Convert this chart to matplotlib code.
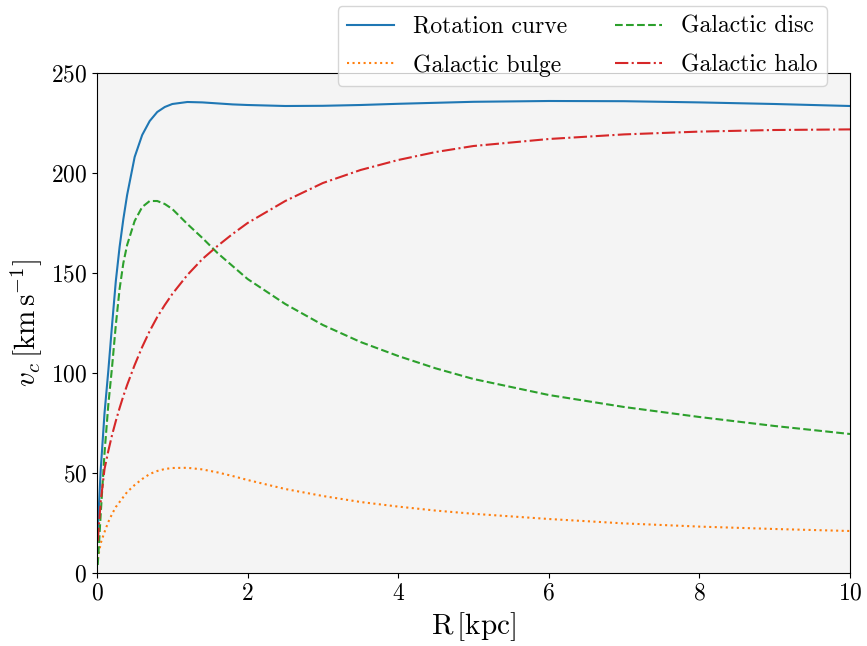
import matplotlib
matplotlib.use('Agg')
import matplotlib.pyplot as plt

plt.rcParams['font.family'] = 'serif'
plt.rcParams['font.serif'] = ['cmr10']
plt.rcParams['mathtext.fontset'] = 'cm'
plt.rcParams['axes.formatter.use_mathtext'] = True

# radius (kpc) and circular velocities (km/s)
R = [0.01, 0.05, 0.1, 0.15, 0.2, 0.25, 0.3, 0.35, 0.4, 0.5, 0.6, 0.7, 0.8, 0.9, 1.0,
     1.2, 1.4, 1.6, 1.8, 2.0, 2.5, 3.0, 3.5, 4.0, 4.5, 5.0, 6.0, 7.0, 8.0, 9.0, 10.0]
v_total = [22, 52, 80, 101, 124, 146, 163, 177, 189, 208, 219, 226, 230.5, 233, 234.5,
           235.5, 235.3, 234.8, 234.3, 234.0, 233.5, 233.6, 234.0, 234.6, 235.1, 235.6,
           236.0, 235.9, 235.3, 234.5, 233.5]
v_bulge = [7, 15, 20.5, 25.5, 29.5, 33, 35.5, 38, 40.5, 44, 47, 49.5, 51, 52, 52.5,
           52.6, 51.8, 50.3, 48.5, 46.5, 42, 38.5, 35.5, 33.2, 31.2, 29.6, 27, 24.8,
           23.2, 22, 21]
v_disc = [4, 30, 60, 84, 103, 124, 142, 155, 164, 176, 183, 186, 186, 184.5, 182,
          174.5, 167.5, 160, 153.5, 147, 134.5, 124, 115.5, 108.5, 102.3, 97, 89, 83,
          78, 73.5, 69.5]
v_halo = [16, 36, 52, 61, 69, 76, 82.5, 88.5, 94, 104, 113, 121, 128, 134, 139.5,
          149, 157, 163.5, 169.5, 175, 186, 195, 201.5, 206.5, 210.5, 213.5, 217, 219.3,
          220.7, 221.5, 221.8]

fig = plt.figure(figsize=(8.67, 6.46), dpi=100)
ax = fig.add_axes([97/867, 73/646, 753/867, 500/646])
ax.set_facecolor('#f4f4f4')

ax.plot(R, v_total, '-', color='tab:blue', label='Rotation curve')
ax.plot(R, v_bulge, ':', color='tab:orange', label='Galactic bulge')
ax.plot(R, v_disc, '--', color='tab:green', label='Galactic disc')
ax.plot(R, v_halo, '-.', color='tab:red', label='Galactic halo')

ax.set_xlim(0, 10)
ax.set_ylim(0, 250)
ax.set_xticks([0, 2, 4, 6, 8, 10])
ax.set_yticks([0, 50, 100, 150, 200, 250])
ax.tick_params(labelsize=17)
ax.set_xlabel(r'$\mathrm{R\,[kpc]}$', fontsize=21)
ax.set_ylabel(r'$v_c\,[\mathrm{km\,s^{-1}}]$', fontsize=21)

ax.legend(ncol=2, loc='lower right', bbox_to_anchor=(0.969, 0.974),
          borderaxespad=0, fontsize=17, labelspacing=0.69)

fig.savefig('out.png', dpi=100)
